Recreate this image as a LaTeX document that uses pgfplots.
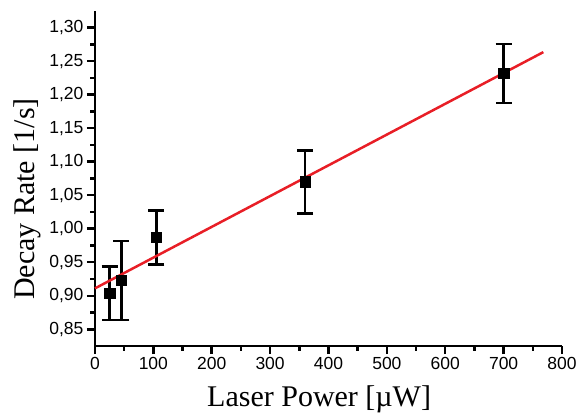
\documentclass[border=0pt]{standalone}
\usepackage{fontspec}
\setmainfont{Liberation Sans}
\newfontfamily\seriffont{Liberation Serif}
\usepackage{pgfplots}
\pgfplotsset{compat=1.18}
\definecolor{fitred}{RGB}{232,30,38}

\begin{document}
\begin{tikzpicture}
\begin{axis}[
    scale only axis,
    width=467pt,
    height=335pt,
    xmin=0, xmax=800,
    ymin=0.825, ymax=1.325,
    xtick={0,100,...,800},
    ytick={0.85,0.90,...,1.31},
    minor x tick num=1,
    minor y tick num=1,
    axis lines*=left,
    axis line style={line width=2.5pt},
    tick align=outside,
    major tick length=8pt,
    minor tick length=4.5pt,
    tick style={line width=2.5pt, black},
    /pgf/number format/assume math mode=true,
    tick label style={font=\fontsize{17.5}{20}\selectfont},
    yticklabel style={/pgf/number format/.cd, fixed, fixed zerofill, precision=2, use comma},
    xticklabel style={/pgf/number format/.cd, fixed, precision=0},
    xlabel={Laser Power [µW]},
    ylabel={Decay Rate [1/s]},
    label style={font=\seriffont\fontsize{30}{34}\selectfont},
    xlabel style={at={(axis description cs:0.48,-0.180)}, anchor=base},
    ylabel style={at={(axis description cs:-0.1285,0.4388)}, anchor=base, rotate=0},
    clip=false,
]
\addplot[only marks, mark=square*, mark size=5.2pt, black,
    error bars/.cd, y dir=both, y explicit,
    error bar style={line width=2.5pt, black},
    error mark options={line width=2.5pt, mark size=8pt, rotate=90}]
    coordinates {
    (25,0.904) +- (0,0.040)
    (45,0.923) +- (0,0.059)
    (105,0.987) +- (0,0.040)
    (360,1.070) +- (0,0.047)
    (700,1.232) +- (0,0.044)
    };
\addplot[fitred, line width=2.5pt, no marks] coordinates {(0,0.911) (768,1.2636)};
\coordinate (bl) at (rel axis cs:-0.2034,-0.203);
\coordinate (tr) at (rel axis cs:1.0407,1.0328);
\end{axis}
\pgfresetboundingbox
\path[use as bounding box] (bl) rectangle (tr);
\end{tikzpicture}
\end{document}
